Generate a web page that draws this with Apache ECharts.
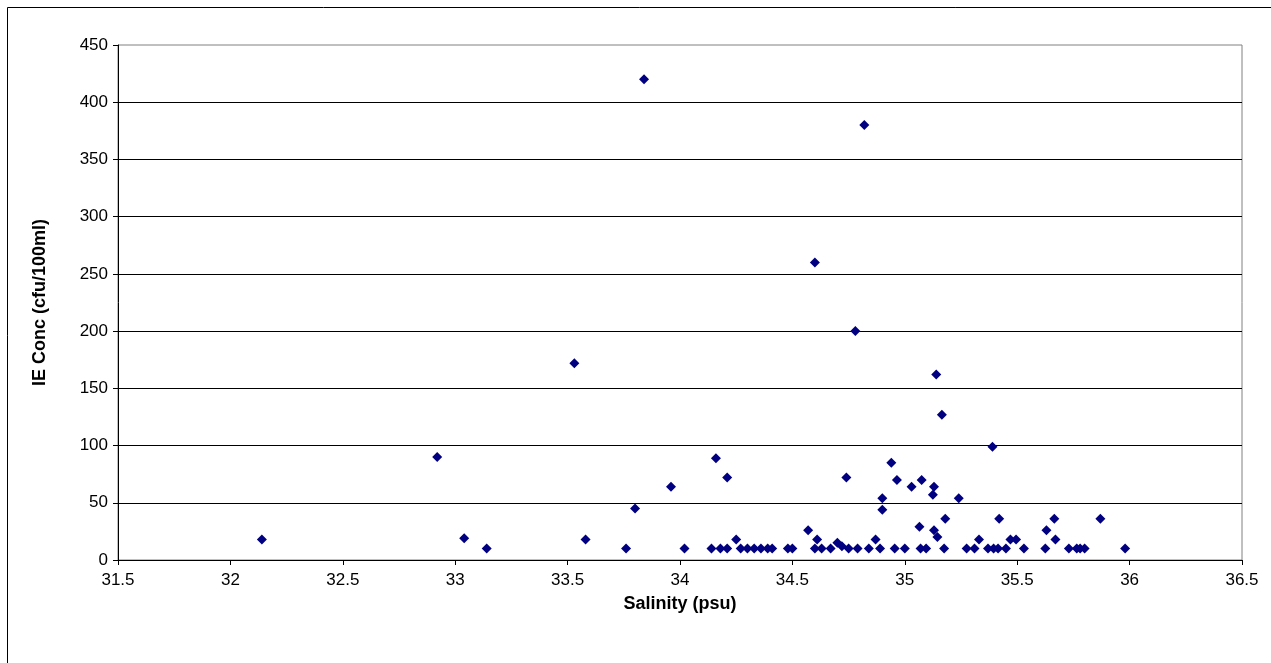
<!DOCTYPE html>
<html>
<head>
<meta charset="utf-8">
<script src="https://cdn.jsdelivr.net/npm/echarts@6/dist/echarts.min.js"></script>
<style>
html,body{margin:0;padding:0;background:#fff;}
#chart{width:1271px;height:663px;}
</style>
</head>
<body>
<div id="chart"></div>
<script>
// Salinity (psu)
const salinity = [
  32.14, 32.92, 33.04, 33.14, 33.53, 33.58, 33.76, 33.80, 33.84, 33.96,
  34.02, 34.14, 34.16, 34.18, 34.21, 34.21, 34.25, 34.27, 34.30, 34.33,
  34.36, 34.39, 34.41, 34.48, 34.50, 34.57, 34.60, 34.60, 34.61, 34.63,
  34.67, 34.70, 34.72, 34.74, 34.75, 34.78, 34.79, 34.82, 34.84, 34.87,
  34.89, 34.90, 34.90, 34.94, 34.955, 34.965, 35.00, 35.03, 35.065, 35.07,
  35.075, 35.095, 35.125, 35.13, 35.13, 35.145, 35.14, 35.165, 35.175, 35.18,
  35.24, 35.275, 35.31, 35.33, 35.37, 35.39, 35.395, 35.415, 35.42, 35.45,
  35.47, 35.495, 35.53, 35.625, 35.63, 35.665, 35.67, 35.73, 35.765, 35.78,
  35.80, 35.87, 35.98
];
// IE Conc (cfu/100ml)
const ieConc = [
  18, 90, 19, 10, 172, 18, 10, 45, 420, 64,
  10, 10, 89, 10, 10, 72, 18, 10, 10, 10,
  10, 10, 10, 10, 10, 26, 260, 10, 18, 10,
  10, 15, 12, 72, 10, 200, 10, 380, 10, 18,
  10, 54, 44, 85, 10, 70, 10, 64, 29, 10,
  70, 10, 57, 64, 26, 20, 162, 127, 10, 36,
  54, 10, 10, 18, 10, 99, 10, 10, 36, 10,
  18, 18, 10, 10, 26, 36, 18, 10, 10, 10,
  10, 36, 10
];
const xTitle = 'Salinity (psu)';
const yTitle = 'IE Conc (cfu/100ml)';

const points = salinity.map((s, i) => [s, ieConc[i]]);

const chart = echarts.init(document.getElementById('chart'), null, {renderer: 'canvas'});
const font = 'Liberation Sans, Arial, sans-serif';
chart.setOption({
  animation: false,
  backgroundColor: '#ffffff',
  graphic: [{
    type: 'rect',
    shape: {x: 7.5, y: 7.5, width: 1400, height: 800},
    style: {fill: 'none', stroke: '#000000', lineWidth: 1},
    z: -10
  }],
  grid: {
    left: 118, top: 45, width: 1124, height: 515,
    show: true, borderColor: '#808080', borderWidth: 1, backgroundColor: 'transparent'
  },
  xAxis: {
    type: 'value', min: 31.5, max: 36.5, interval: 0.5,
    name: xTitle, nameLocation: 'middle', nameGap: 35,
    nameTextStyle: {fontFamily: font, fontSize: 18, fontWeight: 'bold', color: '#000'},
    axisLine: {show: true, onZero: false, lineStyle: {color: '#000', width: 1}},
    axisTick: {show: true, inside: false, length: 5, lineStyle: {color: '#000'}},
    axisLabel: {fontFamily: font, fontSize: 17, color: '#000', margin: 12},
    splitLine: {show: false}
  },
  yAxis: {
    type: 'value', min: 0, max: 450, interval: 50,
    name: yTitle, nameLocation: 'middle', nameGap: 69, nameRotate: 90,
    nameTextStyle: {fontFamily: font, fontSize: 18, fontWeight: 'bold', color: '#000'},
    axisLine: {show: true, lineStyle: {color: '#000', width: 1}},
    axisTick: {show: true, inside: false, length: 5, lineStyle: {color: '#000'}},
    axisLabel: {fontFamily: font, fontSize: 17, color: '#000', margin: 10},
    splitLine: {show: true, showMaxLine: false, lineStyle: {color: '#000', width: 1}}
  },
  series: [{
    type: 'scatter',
    data: points,
    symbol: 'diamond',
    symbolSize: 10,
    itemStyle: {color: '#000080', opacity: 1}
  }]
});
</script>
</body>
</html>
